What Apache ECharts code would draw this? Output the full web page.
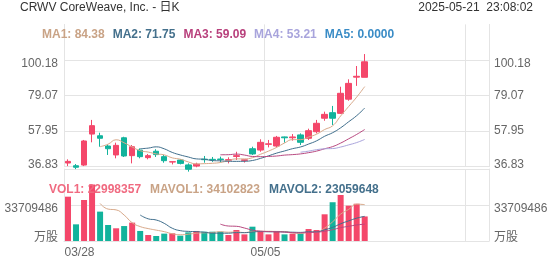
<!DOCTYPE html>
<html><head><meta charset="utf-8">
<script src="https://cdn.jsdelivr.net/npm/echarts@6/dist/echarts.min.js"></script>
<style>html,body{margin:0;padding:0;background:#fff}#c{width:552px;height:265px}</style>
</head><body><div id="c"></div>
<script>
// ---- data ----
const dates = ['03/28','03/31','04/01','04/02','04/03','04/04','04/07','04/08','04/09','04/10','04/11',
  '04/14','04/15','04/16','04/17','04/21','04/22','04/23','04/24','04/25','04/28','04/29','04/30',
  '05/01','05/02','05/05','05/06','05/07','05/08','05/09','05/12','05/13','05/14','05/15','05/16',
  '05/19','05/20','05/21'];
const opens  = [39.0,37.4,37.8,56.2,55.2,49.1,43.8,54.0,43.4,46.7,42.2,46.0,42.8,39.6,40.8,37.9,37.2,41.3,41.2,41.4,40.7,42.9,40.6,47.5,46.7,50.1,49.1,54.5,54.0,55.7,53.7,57.6,65.6,68.9,68.5,76.9,90.0,89.9];
const closes = [40.0,36.5,52.1,61.2,53.7,47.5,49.5,43.2,48.7,42.8,43.4,44.0,40.4,39.8,38.8,35.3,38.3,41.0,40.9,41.1,41.0,43.4,40.9,44.4,51.3,50.4,54.3,54.0,54.5,51.3,58.2,62.6,67.9,65.6,80.4,86.3,90.5,99.1];
const lows   = [37.2,35.4,37.2,51.3,48.7,43.8,41.8,42.6,38.8,41.8,41.2,42.6,39.2,38.2,38.2,33.9,36.5,39.2,39.7,39.4,38.8,40.8,39.3,43.8,45.7,48.3,48.3,51.1,52.3,49.7,52.7,56.6,64.1,61.6,68.1,76.0,84.8,89.9];
const highs  = [41.2,38.4,52.7,64.6,57.0,50.1,51.1,54.6,49.7,47.7,44.4,47.2,43.8,39.9,41.2,38.8,39.2,43.2,42.6,42.8,42.4,45.7,41.0,48.7,53.1,52.7,55.1,54.7,56.2,56.6,59.4,64.6,69.5,72.9,84.3,88.7,96.6,103.7];
const volumes = [41500000,15600000,38400000,52900000,27500000,15000000,11900000,14000000,17200000,9400000,
  5600000,4700000,6900000,7200000,5000000,8100000,9400000,8700000,8700000,8700000,5600000,10300000,6200000,
  13400000,9400000,6200000,9400000,6200000,6900000,6900000,11200000,10300000,25000000,36300000,43100000,
  33100000,34900000,22998357];
const priceTicks = ['36.83','57.95','79.07','100.18',''];
const volTicks = ['万股','33709486',''];
const shownDates = ['03/28','05/05'];
const maPeriods = [5,10,20,30,60];
const maLegend = ['MA1: 84.38','MA2: 71.75','MA3: 59.09','MA4: 53.21','MA5: 0.0000'];
const volMaPeriods = [5,10,20];
const volLegend = ['VOL1: 22998357','MAVOL1: 34102823','MAVOL2: 23059648'];
const titleText = 'CRWV CoreWeave, Inc. - 日K';
const timeText = '2025-05-21  23:08:02';

// ---- styling ----
const UP = '#f4476a', DOWN = '#12b39c';
const maColors = ['#d8a98a','#3f6e8c','#b8487f','#aaa5dc','#3d8fc9'];
const maTextColors = ['#c9a386','#44708c','#b8407c','#a8a4dc','#3a8cc6'];
const volColors = ['#f06a80','#c9a386','#44708c'];
const FONT = "'Liberation Sans', Arial, 'Noto Sans CJK SC', sans-serif";
const GRID = '#e4e4e4';
const SLOTS = 53;

const cats = dates.concat(Array.from({length: SLOTS - dates.length}, (_, i) => 'x' + i));
const candle = dates.map((d, i) => [opens[i], closes[i], lows[i], highs[i]]);
function ma(arr, n) {
  return arr.map((v, i) => {
    if (i < n - 1) return '-';
    let s = 0; for (let k = i - n + 1; k <= i; k++) s += arr[k];
    return +(s / n).toFixed(3);
  });
}
const volBars = volumes.map((v, i) => ({value: v, itemStyle: {color: closes[i] >= opens[i] ? UP : DOWN}}));

const richMa = {}; maTextColors.forEach((c, i) => richMa['m' + i] = {color: c, fontSize: 12, fontFamily: FONT, padding: [0, 8, 0, 0]});
const richVol = {}; volColors.forEach((c, i) => richVol['v' + i] = {color: c, fontSize: 12, fontFamily: FONT, padding: [0, 9, 0, 0]});
const lab = {color: '#666', fontSize: 12, fontFamily: FONT};
const richY = {
  dn: Object.assign({padding: [7, 0, 0, 0]}, lab),
  up: Object.assign({padding: [0, 0, 4, 0]}, lab),
  up6: Object.assign({padding: [0, 0, 6, 0]}, lab),
  n: Object.assign({}, lab)
};
const priceFmt = (v, i) => {
  const t = priceTicks[i];
  if (!t) return '';
  if (i === 3) return '{dn|' + t + '}';
  if (i === 0) return '{up|' + t + '}';
  return '{n|' + t + '}';
};
const volFmt = (v, i) => {
  const t = volTicks[i];
  if (!t) return '';
  return i === 1 ? '{dn|' + t + '}' : '{up6|' + t + '}';
};
const richX = {
  first: Object.assign({padding: [0, 0, 0, 23]}, lab),
  mid: Object.assign({padding: [0, 6, 0, 0]}, lab)
};

const splitX = {show: true, interval: (idx) => idx % 25 === 0, lineStyle: {color: GRID, width: 1}};

const option = {
  animation: false,
  backgroundColor: '#fff',
  textStyle: {fontFamily: FONT},
  title: [
    {text: titleText, left: 20, top: 2, padding: 0, textStyle: {fontSize: 12, fontWeight: 'normal', color: '#333', fontFamily: FONT}},
    {text: timeText, right: 19, top: 2, padding: 0, textStyle: {fontSize: 12, fontWeight: 'normal', color: '#333', fontFamily: FONT}},
    {text: maLegend.map((t, i) => '{m' + i + '|' + t + '}').join(''), left: 42, top: 29, padding: 0, textStyle: {rich: richMa}},
    {text: volLegend.map((t, i) => '{v' + i + '|' + t + '}').join(''), left: 49, top: 184, padding: 0, textStyle: {rich: richVol}}
  ],
  grid: [
    {left: 64, right: 63, top: 24.4, height: 142.3},
    {left: 64, right: 63, top: 169, height: 72}
  ],
  xAxis: [
    {type: 'category', gridIndex: 0, data: cats, boundaryGap: true,
     axisLine: {show: false}, axisTick: {show: false}, axisLabel: {show: false}, splitLine: splitX},
    {type: 'category', gridIndex: 1, data: cats, boundaryGap: true,
     axisLine: {show: true, lineStyle: {color: GRID}}, axisTick: {show: false},
     axisLabel: {show: true, interval: 0, color: '#666', fontSize: 12, fontFamily: FONT, margin: 6, rich: richX,
       formatter: (v) => v === shownDates[0] ? '{first|' + v + '}' : (shownDates.indexOf(v) >= 0 ? '{mid|' + v + '}' : '')},
     splitLine: splitX}
  ],
  yAxis: [
    {type: 'value', gridIndex: 0, position: 'left', min: 36.83, max: 121.3, interval: 21.1175,
     axisLine: {show: true, lineStyle: {color: GRID}}, axisTick: {show: false},
     axisLabel: {color: '#666', fontSize: 12, fontFamily: FONT, margin: 6, showMaxLabel: false, rich: richY, formatter: priceFmt},
     splitLine: {show: true, lineStyle: {color: [GRID, GRID, GRID, GRID, 'rgba(0,0,0,0)']}}},
    {type: 'value', gridIndex: 0, position: 'right', min: 36.83, max: 121.3, interval: 21.1175,
     axisLine: {show: true, lineStyle: {color: GRID}}, axisTick: {show: false},
     axisLabel: {color: '#666', fontSize: 12, fontFamily: FONT, margin: 5, showMaxLabel: false, rich: richY, formatter: priceFmt},
     splitLine: {show: false}},
    {type: 'value', gridIndex: 1, position: 'left', min: 0, max: 67418972, interval: 33709486,
     axisLine: {show: true, lineStyle: {color: GRID}}, axisTick: {show: false},
     axisLabel: {color: '#666', fontSize: 12, fontFamily: FONT, margin: 6, rich: richY, formatter: volFmt},
     splitLine: {show: true, lineStyle: {color: GRID}}},
    {type: 'value', gridIndex: 1, position: 'right', min: 0, max: 67418972, interval: 33709486,
     axisLine: {show: true, lineStyle: {color: GRID}}, axisTick: {show: false},
     axisLabel: {color: '#666', fontSize: 12, fontFamily: FONT, margin: 5, rich: richY, formatter: volFmt},
     splitLine: {show: false}}
  ],
  series: [
    {type: 'candlestick', xAxisIndex: 0, yAxisIndex: 0, data: candle, barWidth: 6, clip: false,
     itemStyle: {color: UP, color0: DOWN, borderColor: UP, borderColor0: DOWN, borderColorDoji: UP, borderWidth: 1}},
    ...maPeriods.map((p, i) => ({type: 'line', xAxisIndex: 0, yAxisIndex: 0, data: ma(closes, p), smooth: true,
      showSymbol: false, symbol: 'none', lineStyle: {width: 1, color: maColors[i]}, z: 3})),
    {type: 'bar', xAxisIndex: 1, yAxisIndex: 2, data: volBars, barWidth: 6},
    ...volMaPeriods.map((p, i) => ({type: 'line', xAxisIndex: 1, yAxisIndex: 2, data: ma(volumes, p), smooth: true,
      showSymbol: false, symbol: 'none', lineStyle: {width: 1, color: maColors[i === 2 ? 2 : i]}, z: 3}))
  ]
};
const chart = echarts.init(document.getElementById('c'), null, {renderer: 'canvas'});
chart.setOption(option);
</script></body></html>
